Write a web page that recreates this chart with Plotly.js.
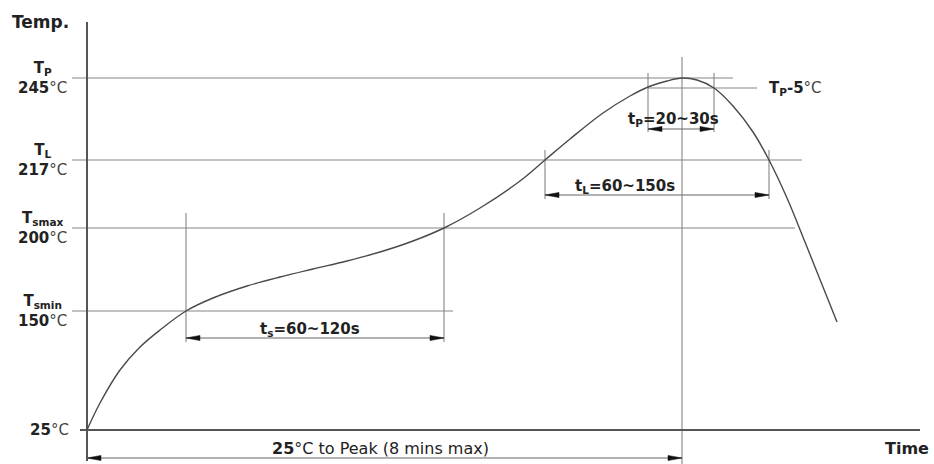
<!DOCTYPE html>
<html><head><meta charset="utf-8">
<script src="https://cdn.plot.ly/plotly-3.0.1.min.js"></script>
<style>html,body{margin:0;padding:0;background:#fff}#chart{width:934px;height:464px}</style>
</head><body><div id="chart"></div>
<script>
// ---- data (schematic diagram units: time → x, temperature level → y) ----
const curveTime  = [0,13,33,53,73,99,126,160,193,226,260,293,326,357,393,433,458,483,516,543,561,580,595,610,627,646,666,682,700,718,734,750];
const curveLevel = [0,27,60,83,100,119,132,144,153,161,169,178,189,202,222,249,270,291,317,334,343,349,352,350,342,324,298,270,232,188,148,108];
const levelNames = ['P','L','smax','smin',''];
const levelTemps = ['245','217','200','150','25'];
const levelPos   = [352,270,202,119,0];
const tp5Level   = 342;
const intervalLabels = ['t<sub>s</sub>=60~120s','t<sub>L</sub>=60~150s','t<sub>P</sub>=20~30s','<b>25</b>°C to Peak (8 mins max)'];
const intervalStart  = [99,458,561,0];
const intervalEnd    = [357,682,627,595];
const peakTime = 595;

// ---- styling / layout ----
const refColor = '#858585', curveColor = '#4a4a4a', axisColor = '#555';
const refLineEnd = [646,715,708,366];
const bracket = [
  {v:[88,217], ay:92,  ly:101, lx:223, bold:true},
  {v:[231,280], ay:235, ly:244, lx:538, bold:true},
  {v:[298,357], ay:301, ly:311, lx:586, bold:true},
  {v:null, ay:-28, ly:-18, lx:293, bold:false}
];
const traces = [];
const line = (xs, ys, color, w) => traces.push({x:xs, y:ys, mode:'lines', line:{color:color, width:w}, hoverinfo:'skip', showlegend:false});
const head = (xt, y, dir) => {
  const L = 14, H = 2.6;
  traces.push({x:[xt, xt+dir*L, xt+dir*L, xt], y:[y, y+H, y-H, y], mode:'lines', fill:'toself',
    fillcolor:'#111', line:{color:'#111', width:0.5}, hoverinfo:'skip', showlegend:false});
};

// reference levels
for (let i = 0; i < 4; i++) line([-15, refLineEnd[i]], [levelPos[i], levelPos[i]], refColor, 1.1);
line([intervalStart[2], 670], [tp5Level, tp5Level], refColor, 1.1);
// peak vertical
line([peakTime, peakTime], [-34, 373], refColor, 1.1);
// brackets
bracket.forEach((b, i) => {
  if (b.v) {
    line([intervalStart[i], intervalStart[i]], b.v, refColor, 1.1);
    line([intervalEnd[i], intervalEnd[i]], b.v, refColor, 1.1);
  }
  line([intervalStart[i], intervalEnd[i]], [b.ay, b.ay], '#666', 1.1);
  head(intervalStart[i], b.ay, 1);
  head(intervalEnd[i], b.ay, -1);
});
// axes
line([0, 0], [-31, 408], axisColor, 2);
line([-7, 833], [0, 0], axisColor, 2);
// profile curve
traces.push({x:curveTime, y:curveLevel, mode:'lines', line:{color:curveColor, width:1.4, shape:'spline', smoothing:1}, hoverinfo:'skip', showlegend:false});

const font = {family:'DejaVu Sans, sans-serif', size:15, color:'#222'};
const ann = [];
levelPos.forEach((p, i) => {
  const t = '<b>' + levelTemps[i] + '</b><span style="color:#444">°C</span>';
  const txt = levelNames[i] ? '<b>T<sub>' + levelNames[i] + '</sub></b><br>' + t : t;
  ann.push({x: levelNames[i] ? -45 : -38, y:p, text:txt, showarrow:false, xanchor:'center', yanchor:'middle', align:'center', font:font});
});
bracket.forEach((b, i) => {
  ann.push({x:b.lx, y:b.ly, text: b.bold ? '<b>' + intervalLabels[i] + '</b>' : intervalLabels[i], showarrow:false, xanchor:'center', yanchor:'middle',
    font: b.bold ? font : Object.assign({}, font, {size:16})});
});
ann.push({x:680, y:tp5Level, text:'<b>T<sub>P</sub>-5</b><span style="color:#444">°C</span>', showarrow:false, xanchor:'left', yanchor:'middle', font:font});
ann.push({x:-77, y:408, text:'<b>Temp.</b>', showarrow:false, xanchor:'left', yanchor:'middle', font:Object.assign({}, font, {size:17})});
ann.push({x:844, y:-18, text:'<b>Time</b>', showarrow:false, xanchor:'right', yanchor:'middle', font:Object.assign({}, font, {size:16})});

const layout = {
  width:934, height:464, margin:{l:0, r:0, t:0, b:0},
  paper_bgcolor:'#fff', plot_bgcolor:'#fff',
  xaxis:{range:[-87, 847], visible:false, fixedrange:true},
  yaxis:{range:[-34, 430], visible:false, fixedrange:true},
  annotations:ann, font:font, showlegend:false
};
Plotly.newPlot('chart', traces, layout, {staticPlot:true, displayModeBar:false});
</script></body></html>
